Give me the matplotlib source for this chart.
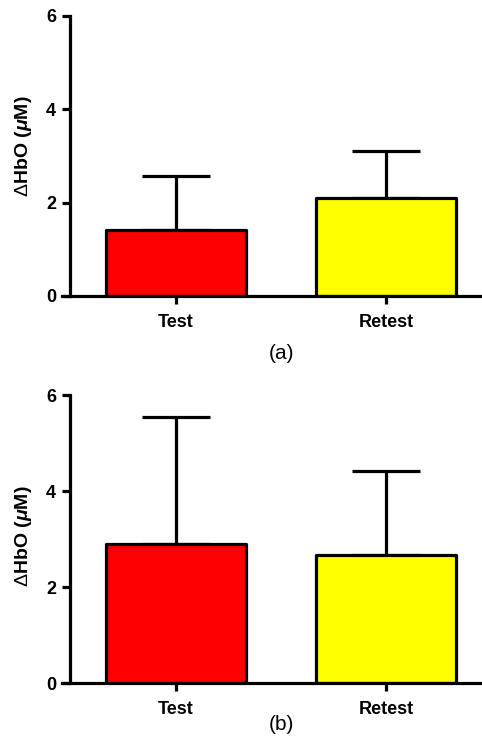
import matplotlib
matplotlib.use("Agg")
import matplotlib.pyplot as plt
import numpy as np

categories = ["Test", "Retest"]
means_a = [1.41, 2.10]
errs_a = [1.16, 1.01]
means_b = [2.90, 2.67]
errs_b = [2.65, 1.75]
colors = ["#ff0000", "#ffff00"]
yticks = [0, 2, 4, 6]
panel_labels = ["(a)", "(b)"]

plt.rcParams['font.family'] = ['Liberation Sans', 'DejaVu Sans']
plt.rcParams['mathtext.fontset'] = 'custom'
plt.rcParams['mathtext.rm'] = 'Liberation Sans'
plt.rcParams['mathtext.it'] = 'Liberation Sans:italic:bold'
plt.rcParams['mathtext.bf'] = 'Liberation Sans:bold'

W, H = 482, 737
fig = plt.figure(figsize=(W / 100, H / 100), dpi=100)

def px_axes(left, top, right, bottom):
    return fig.add_axes([left / W, (H - bottom) / H, (right - left) / W, (bottom - top) / H])

axes = [px_axes(62, 16, 482, 296), px_axes(62, 395, 482, 683.3)]
data = [(means_a, errs_a), (means_b, errs_b)]
label_y = [0.535, 0.51]
label_pos = [(281, 353), (281, 725)]

lw = 2.3
x = np.arange(len(categories))
for ax, (m, e), ly, lab, (lx, lyy) in zip(axes, data, label_y, panel_labels, label_pos):
    ax.errorbar(x, m, yerr=[np.zeros(len(m)), e], fmt='none', ecolor='black',
                elinewidth=lw, capsize=24.5, capthick=lw, zorder=1)
    ax.bar(x, m, width=0.67, color=colors, edgecolor='black', linewidth=lw,
           zorder=2, joinstyle='round')
    ax.set_xlim(-0.543, 1.457)
    ax.set_ylim(0, 6)
    ax.spines['top'].set_visible(False)
    ax.spines['right'].set_visible(False)
    ax.spines['left'].set_position(('data', -0.505))
    ax.spines['left'].set_bounds(0, 6)
    for s in ['left', 'bottom']:
        ax.spines[s].set_linewidth(lw)
        ax.spines[s].set_zorder(3)
    ax.set_yticks(yticks)
    ax.set_yticklabels([str(t) for t in yticks], fontsize=13, fontweight='bold')
    ax.set_xticks(x)
    ax.set_xticklabels(categories, fontsize=13, fontweight='bold')
    ax.tick_params(axis='y', length=6, width=lw, pad=4)
    ax.tick_params(axis='x', length=6, width=lw, pad=7)
    ax.set_ylabel(r'$\Delta$HbO ($\mathit{\mu}$M)', fontsize=14, fontweight='bold')
    ax.yaxis.set_label_coords(-0.066, ly)
    ax.patch.set_visible(False)
    fig.text(lx / W, (H - lyy) / H, lab, fontsize=15, ha='center', va='center')

fig.savefig("out.png", dpi=100)
